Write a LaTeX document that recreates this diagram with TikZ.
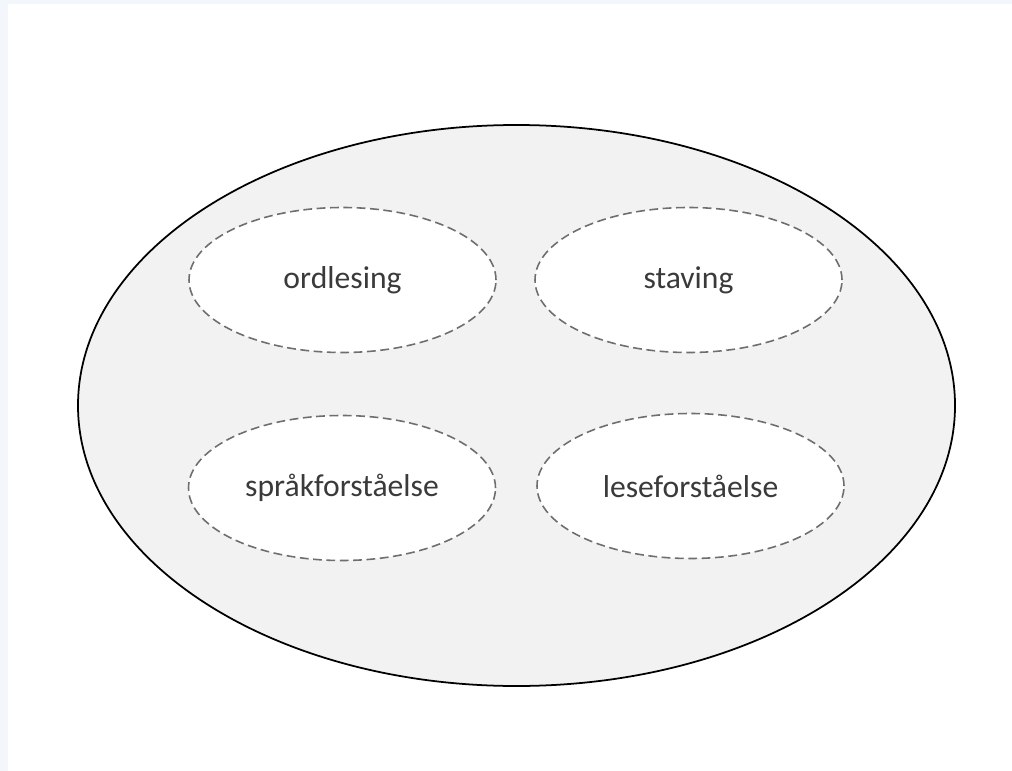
\documentclass[tikz,border=0pt]{standalone}
\usepackage{fontspec}
\setmainfont{Carlito}
\usepackage{xcolor}
\usetikzlibrary{shapes.geometric}

\definecolor{edgeblue}{HTML}{F3F7FB}
\definecolor{outerfill}{HTML}{F2F2F2}
\definecolor{dashgray}{HTML}{6E6E6E}
\definecolor{textgray}{HTML}{3A3A3A}

\tikzset{
  skill/.style={draw=dashgray, dash pattern=on 5pt off 2.6pt, line width=0.9pt,
    ellipse, fill=white, minimum width=6.14cm, minimum height=2.9cm,
    text=textgray, font=\fontsize{18}{21}\selectfont},
}

\begin{document}
\begin{tikzpicture}
            \useasboundingbox (0, 0) rectangle (20.24, -15.42);
            \fill[edgeblue] (0, 0) rectangle (20.24, -15.42);
            \fill[white] (0.16, -0.08) rectangle (20.24, -15.42);

            %outer ellipse holding the four skills
            \node[draw=black, line width=1pt, ellipse, fill=outerfill,
                  minimum width=17.54cm, minimum height=11.22cm] (all) at (10.33, -8.11) {};

            \node[skill] (ordl) at (6.85, -5.6) {ordlesing};
            \node[skill] (stav) at (13.77, -5.6) {staving};
            \node[skill] (spraak) at (6.84, -9.76) {språkforståelse};
            \node[skill] (lese) at (13.81, -9.72) {leseforståelse};

        \end{tikzpicture}
\end{document}
